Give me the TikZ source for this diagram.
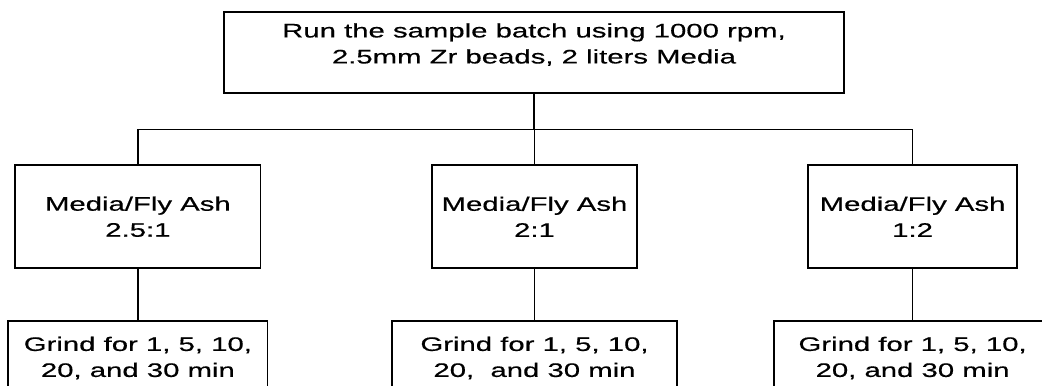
\documentclass[tikz,border=0pt]{standalone}
\usepackage{fontspec}
\setmainfont[FakeStretch=1.5, FakeBold=0.5]{Liberation Sans}
\usetikzlibrary{positioning, calc}

\begin{document}
\begin{tikzpicture}[
  x=0.025cm, y=-0.025cm,
  every node/.style={font=\fontsize{13.9}{18.5}\selectfont},
  runbox/.style={rectangle, draw=black, line width=1.8pt, align=center,
                 inner sep=0pt, minimum width=15.5cm, minimum height=2.025cm},
  ratiobox/.style={rectangle, draw=black, line width=1.3pt, align=center,
                   inner sep=0pt, minimum height=2.575cm},
  grindbox/.style={ratiobox, minimum height=1.85cm},
  link/.style={draw=black, line width=0.9pt},
]
\useasboundingbox (0,0) rectangle (1042,386);
\clip (0,0) rectangle (1042,386);
% Top: batch settings
\node[runbox] (run) at (534,52.5)
  {Run the sample batch using 1000 rpm,\\2.5mm Zr beads, 2 liters Media\rule[-13pt]{0pt}{0pt}};
\coordinate[below=0.875cm of run.south] (bus);
% Middle: media / fly ash ratios
\node[ratiobox, minimum width=6.125cm, below=1.75cm of run, xshift=-9.9cm] (r1) {Media/Fly Ash\\2.5:1};
\node[ratiobox, minimum width=5.125cm, below=1.75cm of run, xshift=0.0125cm] (r2) {Media/Fly Ash\\2:1};
\node[ratiobox, minimum width=5.225cm, below=1.75cm of run, xshift=9.4625cm] (r3) {Media/Fly Ash\\1:2};
% Bottom: grinding times
\node[grindbox, minimum width=6.475cm, below=1.275cm of r1] (g1) {Grind for 1, 5, 10,\\20, and 30 min};
\node[grindbox, minimum width=7.125cm, below=1.275cm of r2] (g2) {Grind for 1, 5, 10,\\20,\ \ and 30 min};
\node[grindbox, minimum width=6.925cm, below=1.275cm of r3] (g3) {Grind for 1, 5, 10,\\20, and 30 min};
\draw[link] (run) -- (bus);
\draw[link] (r1) |- (bus) -| (r3);
\draw[link] (r2) -- (r2 |- bus);
\draw[link] (r1) -- (g1); \draw[link] (r2) -- (g2); \draw[link] (r3) -- (g3);
\end{tikzpicture}
\end{document}
